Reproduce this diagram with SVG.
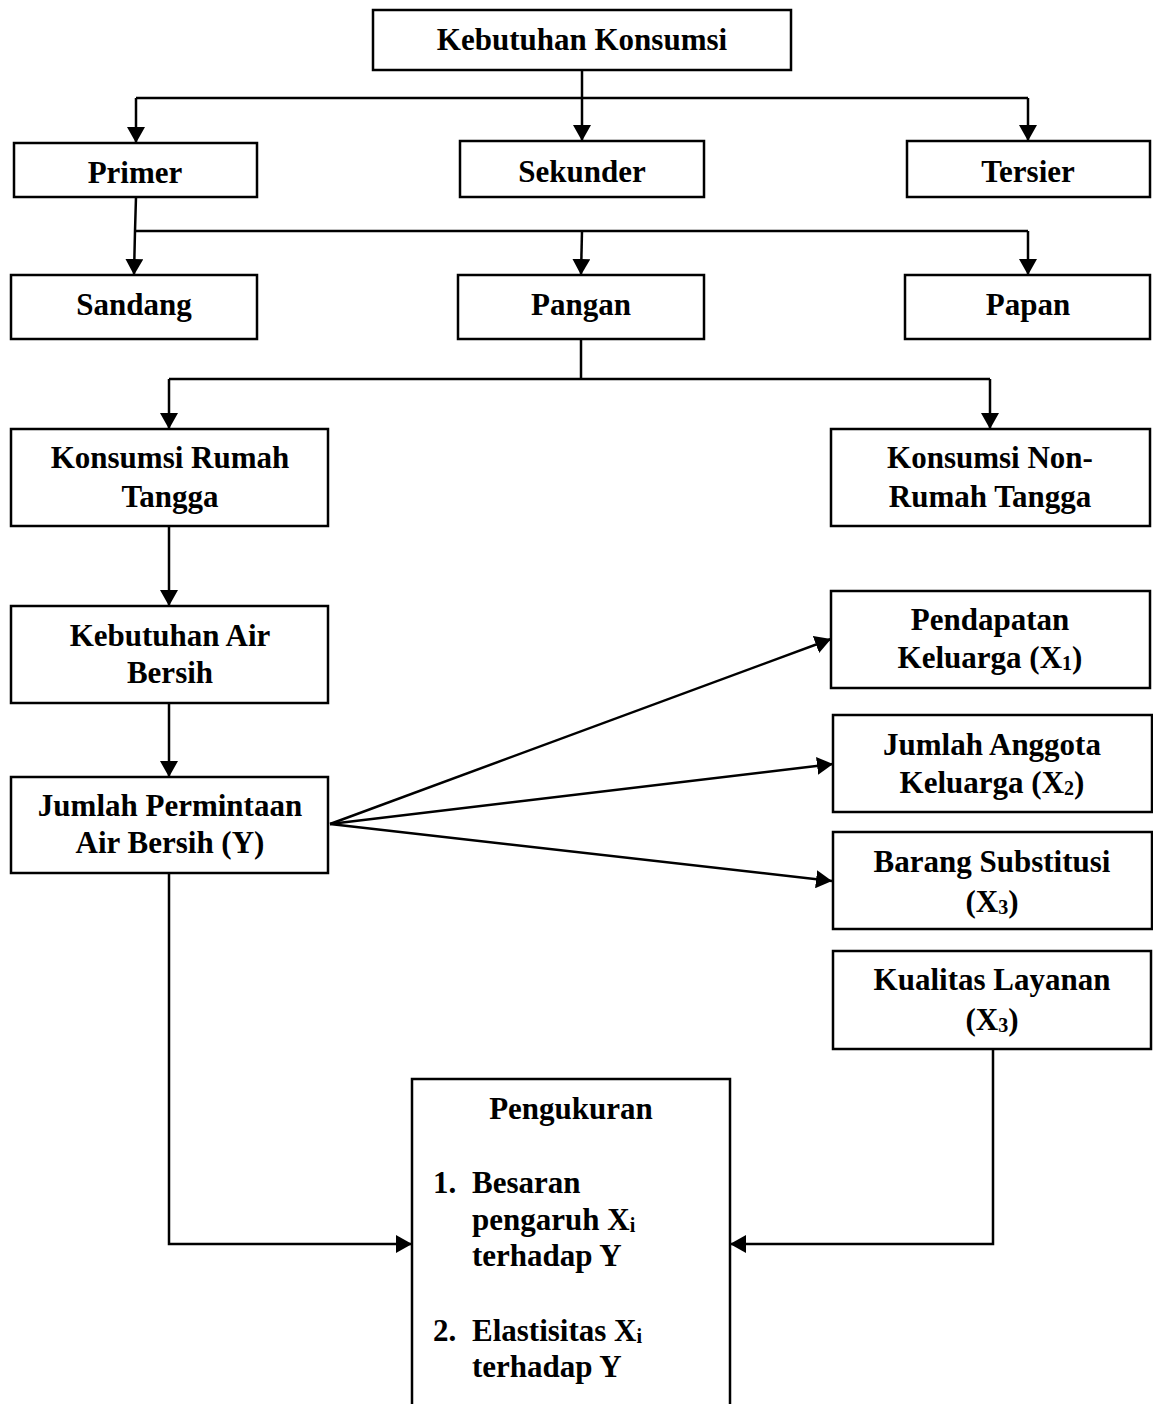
<svg xmlns="http://www.w3.org/2000/svg" width="1153" height="1404" viewBox="0 0 1153 1404">
<style>
.box{fill:#fff;stroke:#000;stroke-width:2.5}
.t{font-family:"Liberation Serif","Times New Roman",serif;font-weight:bold;font-size:31px;fill:#000;text-anchor:middle}
.l{text-anchor:start}
.sub{font-size:20px}
.c{fill:none;stroke:#000;stroke-width:2.5}
</style>
<defs>
<marker id="ah" markerUnits="userSpaceOnUse" markerWidth="16" markerHeight="18" viewBox="0 0 16 18" refX="16" refY="9" orient="auto">
<path d="M0,0 L16,9 L0,18 Z" fill="#000"/>
</marker>
</defs>
<rect width="1153" height="1404" fill="#fff"/>
<g id="connectors">
<path class="c" d="M582,70 V141" marker-end="url(#ah)"/>
<path class="c" d="M136,98 H1028"/>
<path class="c" d="M136,98 V143" marker-end="url(#ah)"/>
<path class="c" d="M1028,98 V141" marker-end="url(#ah)"/>
<path class="c" d="M136,197 L135,231 L134,275" marker-end="url(#ah)"/>
<path class="c" d="M135,231 H1028"/>
<path class="c" d="M582,231 L581,275" marker-end="url(#ah)"/>
<path class="c" d="M1028,231 V275" marker-end="url(#ah)"/>
<path class="c" d="M581,339 L581,379"/>
<path class="c" d="M169,379 H990"/>
<path class="c" d="M169,379 V429" marker-end="url(#ah)"/>
<path class="c" d="M990,379 V429" marker-end="url(#ah)"/>
<path class="c" d="M169,526 V606" marker-end="url(#ah)"/>
<path class="c" d="M169,703 V777" marker-end="url(#ah)"/>
<path class="c" d="M330,824 L831,639" marker-end="url(#ah)"/>
<path class="c" d="M330,824 L833,764" marker-end="url(#ah)"/>
<path class="c" d="M330,824 L832,881" marker-end="url(#ah)"/>
<path class="c" d="M169,873 V1244 H412" marker-end="url(#ah)"/>
<path class="c" d="M993,1049 V1244 H730" marker-end="url(#ah)"/>
</g>
<g id="kebutuhan-konsumsi">
<rect class="box" x="373" y="10" width="418" height="60"/>
<text class="t" x="582" y="50">Kebutuhan Konsumsi</text>
</g>
<g id="primer">
<rect class="box" x="14" y="143" width="243" height="54"/>
<text class="t" x="135" y="183">Primer</text>
</g>
<g id="sekunder">
<rect class="box" x="460" y="141" width="244" height="56"/>
<text class="t" x="582" y="182">Sekunder</text>
</g>
<g id="tersier">
<rect class="box" x="907" y="141" width="243" height="56"/>
<text class="t" x="1028" y="182">Tersier</text>
</g>
<g id="sandang">
<rect class="box" x="11" y="275" width="246" height="64"/>
<text class="t" x="134" y="315">Sandang</text>
</g>
<g id="pangan">
<rect class="box" x="458" y="275" width="246" height="64"/>
<text class="t" x="581" y="315">Pangan</text>
</g>
<g id="papan">
<rect class="box" x="905" y="275" width="245" height="64"/>
<text class="t" x="1028" y="315">Papan</text>
</g>
<g id="konsumsi-rumah-tangga">
<rect class="box" x="11" y="429" width="317" height="97"/>
<text class="t" x="170" y="468">Konsumsi Rumah</text>
<text class="t" x="170" y="507">Tangga</text>
</g>
<g id="konsumsi-non-rumah-tangga">
<rect class="box" x="831" y="429" width="319" height="97"/>
<text class="t" x="990" y="468">Konsumsi Non-</text>
<text class="t" x="990" y="507">Rumah Tangga</text>
</g>
<g id="kebutuhan-air-bersih">
<rect class="box" x="11" y="606" width="317" height="97"/>
<text class="t" x="170" y="646">Kebutuhan Air</text>
<text class="t" x="170" y="683">Bersih</text>
</g>
<g id="jumlah-permintaan">
<rect class="box" x="11" y="777" width="317" height="96"/>
<text class="t" x="170" y="816">Jumlah Permintaan</text>
<text class="t" x="170" y="853">Air Bersih (Y)</text>
</g>
<g id="pendapatan">
<rect class="box" x="831" y="591" width="319" height="97"/>
<text class="t" x="990" y="630">Pendapatan</text>
<text class="t" x="990" y="668">Keluarga (X<tspan class="sub" dy="2">1</tspan><tspan dy="-2">)</tspan></text>
</g>
<g id="jumlah-anggota">
<rect class="box" x="833" y="715" width="319" height="97"/>
<text class="t" x="992" y="755">Jumlah Anggota</text>
<text class="t" x="992" y="793">Keluarga (X<tspan class="sub" dy="2">2</tspan><tspan dy="-2">)</tspan></text>
</g>
<g id="barang-substitusi">
<rect class="box" x="833" y="832" width="319" height="97"/>
<text class="t" x="992" y="872">Barang Substitusi</text>
<text class="t" x="992" y="912">(X<tspan class="sub" dy="2">3</tspan><tspan dy="-2">)</tspan></text>
</g>
<g id="kualitas-layanan">
<rect class="box" x="833" y="951" width="318" height="98"/>
<text class="t" x="992" y="990">Kualitas Layanan</text>
<text class="t" x="992" y="1030">(X<tspan class="sub" dy="2">3</tspan><tspan dy="-2">)</tspan></text>
</g>
<g id="pengukuran">
<rect class="box" x="412" y="1079" width="318" height="340"/>
<text class="t" x="571" y="1119">Pengukuran</text>
<text class="t l" x="433" y="1193">1.</text>
<text class="t l" x="472" y="1193">Besaran</text>
<text class="t l" x="472" y="1230">pengaruh X<tspan class="sub" dy="2">i</tspan></text>
<text class="t l" x="472" y="1266">terhadap Y</text>
<text class="t l" x="433" y="1341">2.</text>
<text class="t l" x="472" y="1341">Elastisitas X<tspan class="sub" dy="2">i</tspan></text>
<text class="t l" x="472" y="1377">terhadap Y</text>
</g>
</svg>
